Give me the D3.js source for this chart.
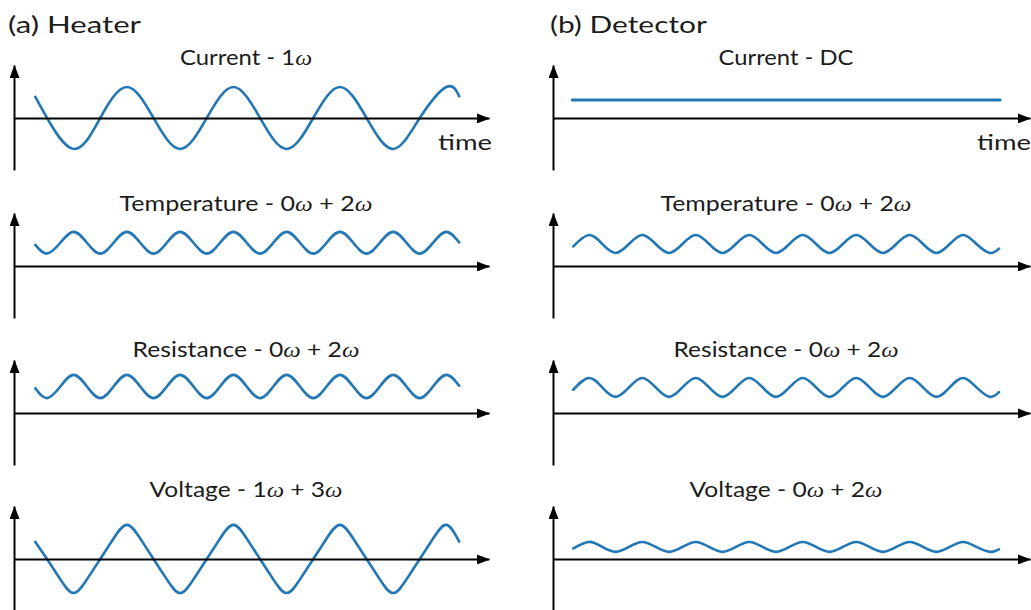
<!DOCTYPE html>
<html>
<head>
<meta charset="utf-8">
<script src="https://cdn.jsdelivr.net/npm/d3@7"></script>
<style>
  html, body { margin: 0; padding: 0; background: #ffffff; }
  svg { display: block; }
</style>
</head>
<body>
<svg id="chart" width="1031" height="610"></svg>
<script>
// ---------------- DATA (time in cycles of the 1ω current, values in arbitrary units) ----------------
const panelTitles = ["(a) Heater", "(b) Detector"];
const heaterRowTitles = ["Current - 1ω", "Temperature - 0ω + 2ω", "Resistance - 0ω + 2ω", "Voltage - 1ω + 3ω"];
const detectorRowTitles = ["Current - DC", "Temperature - 0ω + 2ω", "Resistance - 0ω + 2ω", "Voltage - 0ω + 2ω"];
const axisLabel = "time";
const timeDomain = [0, 4.46];

// Heater: current (1ω) key points
const heaterCurrentTimes = [0.20, 0.31, 0.56, 0.81, 1.06, 1.31, 1.56, 1.81, 2.06, 2.31, 2.56, 2.81, 3.06, 3.31, 3.56, 3.81, 4.06, 4.18];
const heaterCurrent      = [0.68, 0.00, -1.00, 0.00, 1.00, 0.00, -1.00, 0.00, 1.00, 0.00, -1.00, 0.00, 1.00, 0.00, -1.00, 0.00, 1.00, 0.70];

// Heater: key-point times for temperature, resistance and voltage
const heaterTimes = [0.20, 0.31, 0.435, 0.56, 0.685, 0.81, 0.935, 1.06, 1.185, 1.31, 1.435, 1.56, 1.685, 1.81, 1.935, 2.06, 2.185,
                     2.31, 2.435, 2.56, 2.685, 2.81, 2.935, 3.06, 3.185, 3.31, 3.435, 3.56, 3.685, 3.81, 3.935, 4.06, 4.18];
const heaterTemperature = [0.68, 0.40, 0.75, 1.10, 0.75, 0.40, 0.75, 1.10, 0.75, 0.40, 0.75, 1.10, 0.75, 0.40, 0.75, 1.10, 0.75,
                           0.40, 0.75, 1.10, 0.75, 0.40, 0.75, 1.10, 0.75, 0.40, 0.75, 1.10, 0.75, 0.40, 0.75, 1.10, 0.76];
const heaterResistance  = [0.80, 0.48, 0.855, 1.23, 0.855, 0.48, 0.855, 1.23, 0.855, 0.48, 0.855, 1.23, 0.855, 0.48, 0.855, 1.23, 0.855,
                           0.48, 0.855, 1.23, 0.855, 0.48, 0.855, 1.23, 0.855, 0.48, 0.855, 1.23, 0.855, 0.48, 0.855, 1.23, 0.88];
const heaterVoltage     = [0.55, 0.00, -0.66, -1.10, -0.66, 0.00, 0.66, 1.10, 0.66, 0.00, -0.66, -1.10, -0.66, 0.00, 0.66, 1.10, 0.66,
                           0.00, -0.66, -1.10, -0.66, 0.00, 0.66, 1.10, 0.66, 0.00, -0.66, -1.10, -0.66, 0.00, 0.66, 1.10, 0.56];

// Detector: DC current
const detectorCurrentTimes = [0.18, 4.18];
const detectorCurrent      = [0.58, 0.58];

// Detector: key-point times for temperature, resistance and voltage
const detectorTimes = [0.19, 0.335, 0.46, 0.585, 0.71, 0.835, 0.96, 1.085, 1.21, 1.335, 1.46, 1.585, 1.71, 1.835, 1.96, 2.085, 2.21,
                       2.335, 2.46, 2.585, 2.71, 2.835, 2.96, 3.085, 3.21, 3.335, 3.46, 3.585, 3.71, 3.835, 3.96, 4.085, 4.17];
const detectorTemperature = [0.63, 1.00, 0.71, 0.42, 0.71, 1.00, 0.71, 0.42, 0.71, 1.00, 0.71, 0.42, 0.71, 1.00, 0.71, 0.42, 0.71,
                             1.00, 0.71, 0.42, 0.71, 1.00, 0.71, 0.42, 0.71, 1.00, 0.71, 0.42, 0.71, 1.00, 0.71, 0.42, 0.56];
const detectorResistance  = [0.75, 1.13, 0.825, 0.52, 0.825, 1.13, 0.825, 0.52, 0.825, 1.13, 0.825, 0.52, 0.825, 1.13, 0.825, 0.52, 0.825,
                             1.13, 0.825, 0.52, 0.825, 1.13, 0.825, 0.52, 0.825, 1.13, 0.825, 0.52, 0.825, 1.13, 0.825, 0.52, 0.67];
const detectorVoltage     = [0.34, 0.55, 0.39, 0.23, 0.39, 0.55, 0.39, 0.23, 0.39, 0.55, 0.39, 0.23, 0.39, 0.55, 0.39, 0.23, 0.39,
                             0.55, 0.39, 0.23, 0.39, 0.55, 0.39, 0.23, 0.39, 0.55, 0.39, 0.23, 0.39, 0.55, 0.39, 0.23, 0.31];

// ---------------- LAYOUT ----------------
const svg = d3.select("#chart");
const FONT = "Lato, 'Open Sans', sans-serif";
const TEXT_COLOR = "#1c1c1c";
const LINE_COLOR = "#2277b4";

const panelLayout = [
  { axisX: 14,  tipX: 489, titleLeft: 8,   titleW: 133, centerX: 246, timeLeft: 438 },
  { axisX: 553, tipX: 1030, titleLeft: 550, titleW: 157, centerX: 786, timeLeft: 977 }
];
const rowAxisY = [118, 266, 413, 559];
const rowTitleBase = [65, 211, 357, 497];
const heaterTitleW = [132, 253, 227, 193];
const detectorTitleW = [135, 251, 225, 193];
const yDomain = [-1.68, 1.71];

const panelSeries = [
  [
    { t: heaterCurrentTimes, v: heaterCurrent },
    { t: heaterTimes, v: heaterTemperature },
    { t: heaterTimes, v: heaterResistance },
    { t: heaterTimes, v: heaterVoltage }
  ],
  [
    { t: detectorCurrentTimes, v: detectorCurrent, dc: true },
    { t: detectorTimes, v: detectorTemperature },
    { t: detectorTimes, v: detectorResistance },
    { t: detectorTimes, v: detectorVoltage }
  ]
];

// arrow marker
const defs = svg.append("defs");
defs.append("marker")
  .attr("id", "arrow")
  .attr("markerUnits", "userSpaceOnUse")
  .attr("viewBox", "0 0 13 10")
  .attr("markerWidth", 13).attr("markerHeight", 10)
  .attr("refX", 12.5).attr("refY", 5)
  .attr("orient", "auto")
  .append("path").attr("d", "M0,0 L13,5 L0,10 Z").attr("fill", "#000");

// text helper: ω parts in italic serif
function addRichText(g, str, size) {
  const t = g.append("text")
    .attr("font-family", FONT)
    .attr("font-size", size)
    .attr("fill", TEXT_COLOR);
  const parts = str.split("ω");
  parts.forEach((p, i) => {
    if (p.length) t.append("tspan").text(p);
    if (i < parts.length - 1) {
      t.append("tspan").text("ω")
        .attr("font-family", "'Liberation Serif', 'DejaVu Serif', serif")
        .attr("font-style", "italic");
    }
  });
  return t;
}
function fitText(parentSel, str, size, left, baseline, targetW, anchorCenter) {
  const g = parentSel.append("g");
  const t = addRichText(g, str, size);
  const w = t.node().getComputedTextLength();
  const sx = targetW / w;
  if (anchorCenter) t.attr("text-anchor", "middle");
  g.attr("transform", `translate(${left},${baseline}) scale(${sx},1)`);
  return g;
}

panelLayout.forEach((P, pi) => {
  const pg = svg.append("g");
  fitText(pg, panelTitles[pi], 24, P.titleLeft, 33, P.titleW, false);

  const x = d3.scaleLinear().domain(timeDomain).range([P.axisX, P.tipX]);
  const titles = pi === 0 ? heaterRowTitles : detectorRowTitles;
  const widths = pi === 0 ? heaterTitleW : detectorTitleW;

  rowAxisY.forEach((ay, ri) => {
    const y = d3.scaleLinear().domain(yDomain).range([ay + 52, ay - 53]);
    const rg = pg.append("g");

    // series
    const s = panelSeries[pi][ri];
    const pts = s.t.map((tt, i) => [tt, s.v[i]]);
    const line = d3.line()
      .x(d => x(d[0]))
      .y(d => y(d[1]))
      .curve(s.dc ? d3.curveLinear : d3.curveNatural);
    rg.append("path")
      .attr("d", line(pts))
      .attr("fill", "none")
      .attr("stroke", LINE_COLOR)
      .attr("stroke-width", s.dc ? 3 : 2.6)
      .attr("stroke-linecap", "round")
      .attr("stroke-linejoin", "round");

    // x axis (time)
    const xAxis = rg.append("g")
      .attr("transform", `translate(0,${y(0)})`)
      .call(d3.axisBottom(x).tickValues([]).tickSizeOuter(0));
    xAxis.select(".domain")
      .attr("stroke", "#000").attr("stroke-width", 2)
      .attr("marker-end", "url(#arrow)");

    // y axis
    const yAxis = rg.append("g")
      .attr("transform", `translate(${P.axisX},0)`)
      .call(d3.axisLeft(y).tickValues([]).tickSizeOuter(0));
    yAxis.select(".domain")
      .attr("stroke", "#000").attr("stroke-width", 2)
      .attr("marker-end", "url(#arrow)");

    // row title
    fitText(rg, titles[ri], 21, P.centerX, rowTitleBase[ri], widths[ri], true);

    // time label on first row
    if (ri === 0) {
      fitText(rg, axisLabel, 21, P.timeLeft, 150, 54, false);
    }
  });
});
</script>
</body>
</html>
